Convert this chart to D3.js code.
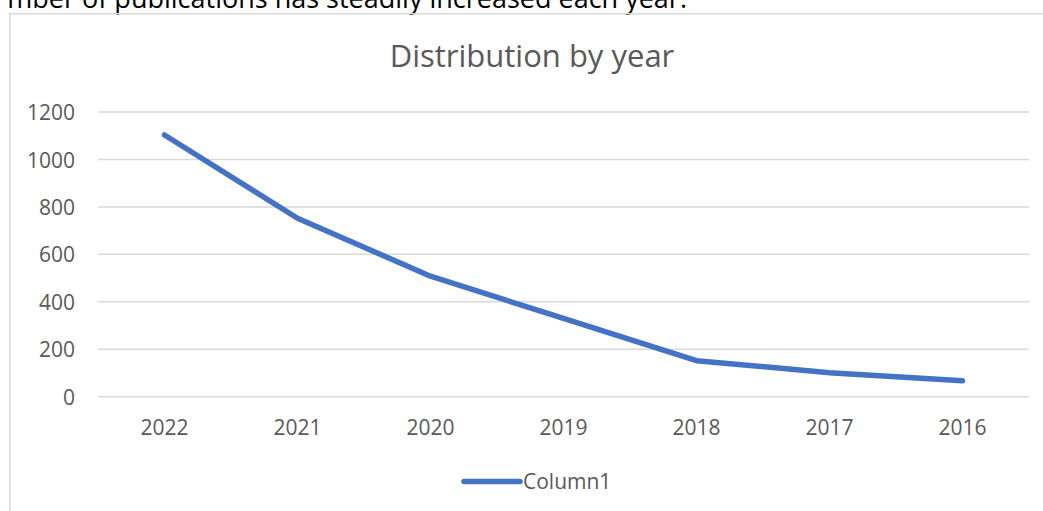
<!DOCTYPE html>
<html>
<head>
<meta charset="utf-8">
<script src="https://cdn.jsdelivr.net/npm/d3@7"></script>
<style>
  body { margin: 0; background: #fff; }
  svg { display: block; }
  text { font-family: "Open Sans", "Noto Sans", sans-serif; }
</style>
</head>
<body>
<div id="chart"></div>
<script>
var svgWidth = 1043;
var svgHeight = 511;

// chart data
var years = ["2022", "2021", "2020", "2019", "2018", "2017", "2016"];
var publications = [1103, 752, 508, 330, 152, 101, 67];
var yTicks = [0, 200, 400, 600, 800, 1000, 1200];
var seriesName = "Column1";
var chartTitle = "Distribution by year";
var captionText = "mber of publications has steadily increased each year.";

var plot = { left: 98, right: 1029, top: 112, bottom: 396.7 };

var svg = d3.select("#chart")
    .append("svg")
    .attr("width", svgWidth)
    .attr("height", svgHeight);

// cropped line of document text above the chart
svg.append("text")
    .attr("x", 687)
    .attr("y", 7.5)
    .attr("text-anchor", "end")
    .attr("font-size", "27px")
    .attr("fill", "#000")
    .text(captionText);

// chart area border (only left and top edges are in view)
svg.append("rect")
    .attr("x", 9.75)
    .attr("y", 13.75)
    .attr("width", 1100)
    .attr("height", 600)
    .attr("fill", "none")
    .attr("stroke", "#d9d9d9")
    .attr("stroke-width", 1.5);

var xScale = d3.scaleBand()
    .domain(years)
    .range([plot.left, plot.right]);

var yScale = d3.scaleLinear()
    .domain([0, 1200])
    .range([plot.bottom, plot.top]);

// gridlines
svg.append("g")
    .selectAll("line")
    .data(yTicks)
    .enter()
    .append("line")
    .attr("x1", plot.left)
    .attr("x2", plot.right)
    .attr("y1", d => yScale(d))
    .attr("y2", d => yScale(d))
    .attr("stroke", "#d9d9d9")
    .attr("stroke-width", 1.5);

// y axis labels
var leftAxis = d3.axisLeft(yScale)
    .tickValues(yTicks)
    .tickFormat(d3.format("d"))
    .tickSize(0)
    .tickPadding(0);

var yAxis = svg.append("g")
    .attr("transform", `translate(75, 0)`)
    .call(leftAxis);
yAxis.select(".domain").remove();
yAxis.selectAll("text")
    .attr("font-family", "Open Sans")
    .attr("font-size", "21px")
    .attr("fill", "#595959")
    .attr("dy", "0.36em");

// x axis labels
var bottomAxis = d3.axisBottom(xScale)
    .tickSize(0)
    .tickPadding(0);

var xAxis = svg.append("g")
    .attr("transform", `translate(0, 420)`)
    .call(bottomAxis);
xAxis.select(".domain").remove();
xAxis.selectAll("text")
    .attr("font-family", "Open Sans")
    .attr("font-size", "21px")
    .attr("fill", "#595959")
    .attr("dy", "0.71em");

// series line
var line = d3.line()
    .x((d, i) => xScale(years[i]) + xScale.bandwidth() / 2)
    .y(d => yScale(d));

svg.append("path")
    .datum(publications)
    .attr("d", line)
    .attr("fill", "none")
    .attr("stroke", "#4472c4")
    .attr("stroke-width", 5.5)
    .attr("stroke-linecap", "round")
    .attr("stroke-linejoin", "round");

// title
svg.append("text")
    .attr("x", 532)
    .attr("y", 67)
    .attr("text-anchor", "middle")
    .attr("font-size", "31px")
    .attr("fill", "#595959")
    .text(chartTitle);

// legend
var legend = svg.append("g")
    .attr("transform", "translate(464, 481.5)");

legend.append("line")
    .attr("x1", 0)
    .attr("x2", 56)
    .attr("y1", 0)
    .attr("y2", 0)
    .attr("stroke", "#4472c4")
    .attr("stroke-width", 5.5)
    .attr("stroke-linecap", "round");

legend.append("text")
    .attr("x", 59)
    .attr("y", 0)
    .attr("dy", "0.36em")
    .attr("font-size", "21px")
    .attr("fill", "#595959")
    .text(seriesName);
</script>
</body>
</html>
